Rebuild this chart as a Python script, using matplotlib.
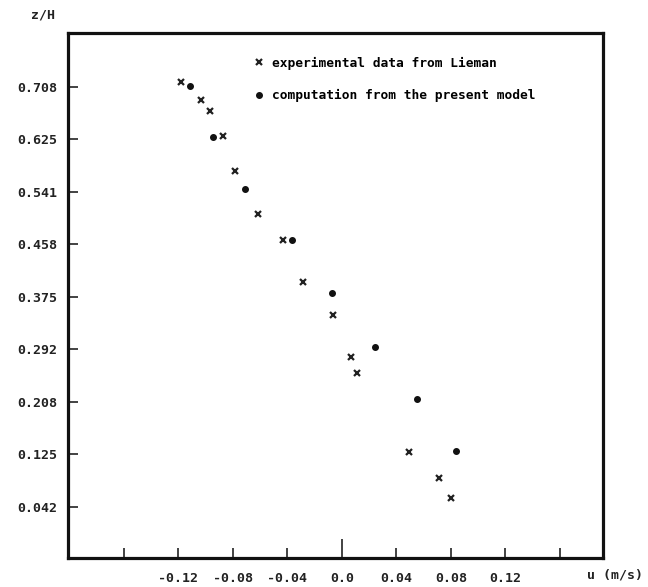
import numpy as np
import matplotlib
matplotlib.use("Agg")
import matplotlib.pyplot as plt

plt.rcParams['font.family'] = ['DejaVu Sans Mono']
plt.rcParams['font.weight'] = 'bold'

# experimental data (Lieman): u (m/s), z/H
u_exp = [-0.118, -0.1035, -0.097, -0.0875, -0.0785, -0.0617, -0.0433, -0.0286,
         -0.0066, 0.0066, 0.011, 0.049, 0.0712, 0.080]
z_exp = [0.716, 0.687, 0.670, 0.630, 0.575, 0.506, 0.465, 0.399,
         0.346, 0.279, 0.254, 0.129, 0.087, 0.056]

# computation from the present model
u_mod = [-0.1116, -0.0946, -0.0712, -0.0367, -0.0073, 0.0242, 0.055, 0.0837]
z_mod = [0.7095, 0.629, 0.546, 0.465, 0.381, 0.295, 0.213, 0.130]

xticks = [-0.16, -0.12, -0.08, -0.04, 0.0, 0.04, 0.08, 0.12, 0.16]
xticklabels = ['', '-0.12', '-0.08', '-0.04', '0.0', '0.04', '0.08', '0.12', '']
yticks = [1/24, 3/24, 5/24, 7/24, 9/24, 11/24, 13/24, 15/24, 17/24]
yticklabels = ['0.042', '0.125', '0.208', '0.292', '0.375', '0.458', '0.541', '0.625', '0.708']

fig = plt.figure(figsize=(6.48, 5.87), dpi=100)
ax = fig.add_axes([0.105, 0.0494, 0.8256, 0.8944])

ax.plot(u_exp, z_exp, linestyle='none', marker='x', ms=5, mew=1.6, color='#222222',
        label='experimental data from Lieman')
ax.plot(u_mod, z_mod, linestyle='none', marker='o', ms=4, color='#111111',
        label='computation from the present model')

ax.set_xlim(-0.201, 0.1916)
ax.set_ylim(-0.0397, 0.7937)

ax.set_xticks(xticks)
ax.set_xticklabels(xticklabels)
ax.set_yticks(yticks)
ax.set_yticklabels(yticklabels)
ax.tick_params(axis='both', direction='in', length=7, width=1.2, labelsize=9.5, colors='#222222')
ax.tick_params(axis='x', pad=10)
ax.tick_params(axis='y', pad=8)
ax.xaxis.get_major_ticks()[4].tick1line.set_markersize(14)

for s in ax.spines.values():
    s.set_linewidth(2.3)
    s.set_color('#111111')

ax.set_xlabel('u (m/s)', fontsize=9.5, fontweight='bold', color='#222222')
ax.xaxis.set_label_coords(1.022, -0.02)
ax.set_ylabel('z/H', fontsize=9.5, fontweight='bold', rotation=0, color='#222222')
ax.yaxis.set_label_coords(-0.047, 1.022)

ax.legend(loc='upper left', bbox_to_anchor=(0.33, 0.972), frameon=False,
          fontsize=9.3, handlelength=0.8, handletextpad=0.6, labelspacing=1.5,
          borderpad=0.2)

fig.savefig('out.png', dpi=100)
